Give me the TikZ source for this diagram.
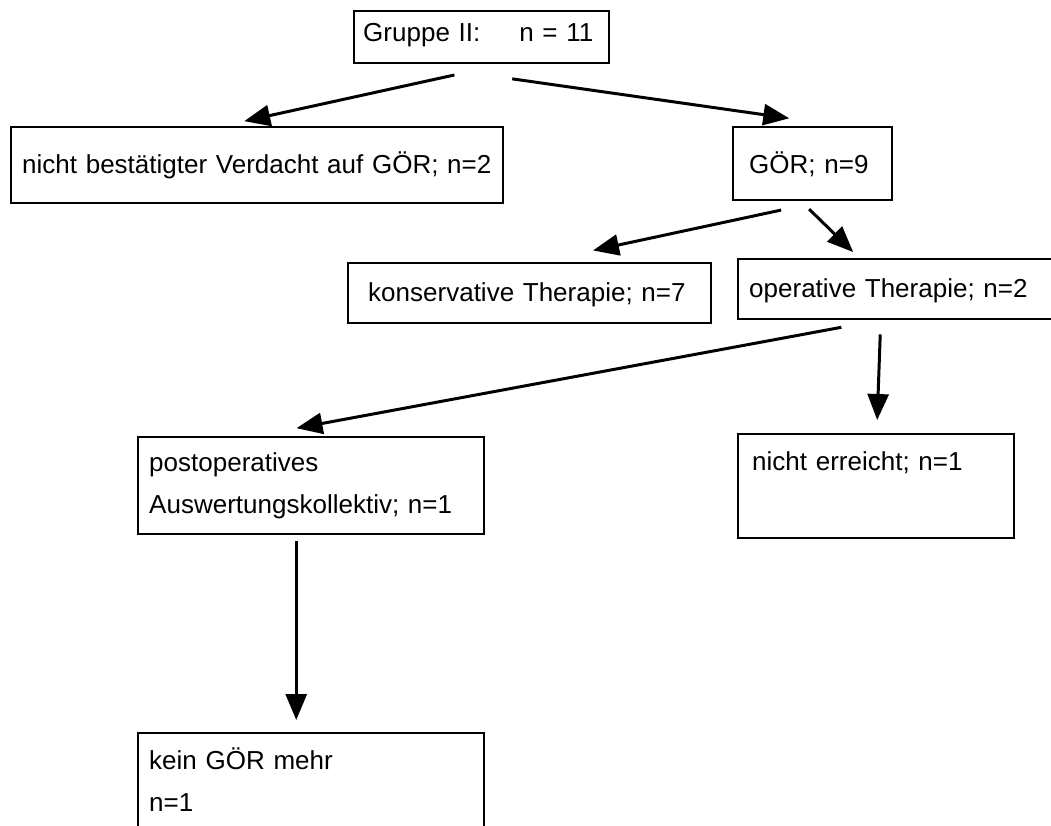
\documentclass[tikz,border=0pt]{standalone}
\usepackage{fontspec}
\setmainfont{Liberation Sans}
\usepackage{tikz}
\usetikzlibrary{arrows.meta}

\begin{document}
\begin{tikzpicture}[x=0.2mm,y=-0.2mm,
		box/.style={draw,
			line width=1.4pt,
			anchor=north west,
			inner ysep=0pt,
			align=left,
			font=\fontsize{14.8pt}{24pt}\selectfont},
		arr/.style={line width=1.7pt,-{Triangle[length=5.2mm,width=4.2mm]}}]
		\path[use as bounding box,clip] (0,0) rectangle (1051,825);

		\node[box,
			text width=47.4mm,
			inner xsep=1.8mm,
			text height=6mm,
			text depth=4.4mm
		] (gruppe) at (353,10) {Gruppe II:\hspace{7.8mm}n = 11};

		\node[box,
			text width=94mm,
			inner xsep=2.2mm,
			text height=9.2mm,
			text depth=6mm
		] (nichtbest) at (10,126) {nicht bestätigter Verdacht auf GÖR; n=2};

		\node[box,
			text width=25.4mm,
			inner xsep=3.2mm,
			text height=9.2mm,
			text depth=5.4mm
		] (goer) at (732,126) {GÖR; n=9};

		\node[box,
			text width=64.6mm,
			inner xsep=4mm,
			text height=7.6mm,
			text depth=4.4mm
		] (konserv) at (347,262) {konservative Therapie; n=7};

		\node[box,
			text width=61.6mm,
			inner xsep=2.2mm,
			text height=7.6mm,
			text depth=4.4mm
		] (operativ) at (737,258) {operative Therapie; n=2};

		\node[box,
			text width=64.8mm,
			inner xsep=2.2mm,
			text height=6.8mm,
			text depth=12.6mm
		] (postop) at (137,436) {postoperatives\\Auswertungskollektiv; n=1};

		\node[box,
			text width=49.6mm,
			inner xsep=2.8mm,
			text height=7.2mm,
			text depth=13.6mm
		] (nichterr) at (737,433) {nicht erreicht; n=1};

		\node[box,
			text width=64.8mm,
			inner xsep=2.2mm,
			text height=7.2mm,
			text depth=16.8mm
		] (keingoer) at (137,732) {kein GÖR mehr\\n=1};

		% Pfeile
		\draw[arr,shorten <=9.8mm,shorten >=4.5mm] ([xshift=4.1mm]gruppe.south) -- ([xshift=-7mm]nichtbest.north);
		\draw[arr,shorten <=20.4mm,shorten >=10.9mm] ([xshift=-14.1mm]gruppe.south) -- ([xshift=6.1mm]goer.north);
		\draw[arr,shorten <=8.2mm,shorten >=11mm] ([xshift=1.7mm]goer.south) -- ([xshift=1.9mm]konserv.north);
		\draw[arr,shorten <=2.2mm,shorten >=1.7mm] ([xshift=-2.3mm]goer.south) -- ([xshift=-8.8mm]operativ.north);
		\draw[arr,shorten <=7.5mm,shorten >=8.6mm] ([xshift=-5mm]operativ.south) -- ([xshift=-11.4mm]postop.north);
		\draw[arr,shorten <=2.8mm,shorten >=2.6mm] ([xshift=-4.5mm]operativ.south) -- ([xshift=0.1mm]nichterr.north);
		\draw[arr,shorten <=1.2mm,shorten >=2.4mm] ([xshift=-3mm]postop.south) -- ([xshift=-3mm]keingoer.north);

	\end{tikzpicture}
\end{document}
